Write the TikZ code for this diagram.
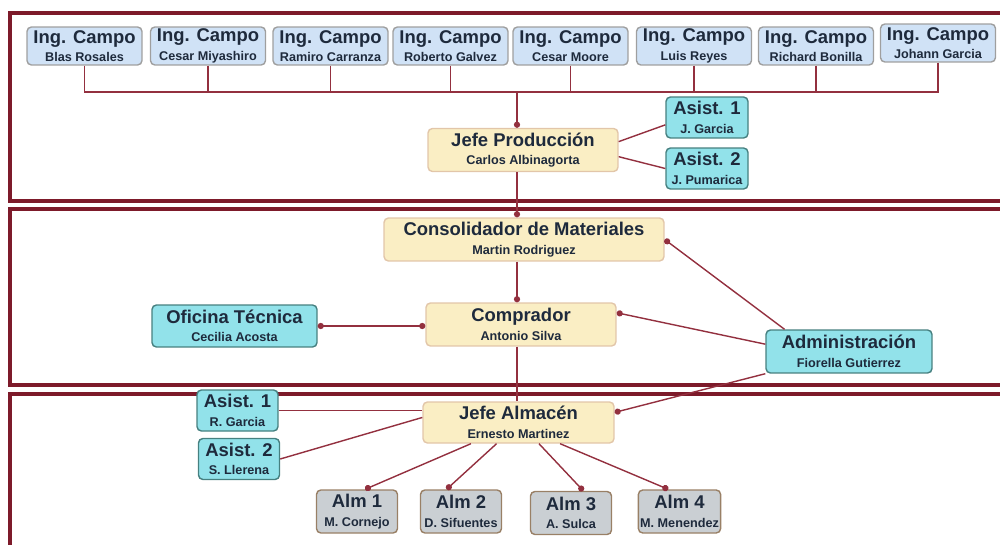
\documentclass[tikz,border=0pt]{standalone}
\usepackage{fontspec}
\setmainfont{Liberation Sans}
\usetikzlibrary{arrows.meta}
\definecolor{bandred}{HTML}{7D1A2A}
\definecolor{bandpink}{HTML}{EDC2C8}
\definecolor{linkred}{HTML}{93303F}
\definecolor{inkblue}{HTML}{1E2A3C}
\definecolor{ingfill}{HTML}{D0E2F6}
\definecolor{jefefill}{HTML}{FAEEC4}
\definecolor{asisfill}{HTML}{92E2EA}
\definecolor{almfill}{HTML}{CACFD3}
\tikzset{
  card/.style={rectangle,rounded corners=2.5pt,align=center,inner sep=1pt,
    text=inkblue,font=\bfseries,line width=0.8pt},
  ingbox/.style={card,fill=ingfill,draw=gray!75,minimum width=2.3cm,minimum height=0.76cm},
  jefebox/.style={card,fill=jefefill,draw=brown!45,minimum width=3.8cm,minimum height=0.86cm},
  asisbox/.style={card,fill=asisfill,draw=teal!45!gray,minimum width=1.64cm,minimum height=0.82cm},
  almbox/.style={card,fill=almfill,draw=brown!40!gray,minimum width=1.62cm,minimum height=0.86cm},
  rel/.style={draw=linkred,line width=0.8pt},
  feed/.style={rel,-{Circle[length=3.5pt]}},
  mutual/.style={rel,{Circle[length=3.5pt]}-{Circle[length=3.5pt]}},
  bandback/.style={draw=bandpink,line width=2.8pt},
  bandline/.style={draw=bandred,line width=1.8pt}
}
\newcommand{\who}[2]{{\fontsize{10.5}{11}\selectfont #1}\\[-1.5pt]{\fontsize{7.2}{8}\selectfont #2}}

\begin{document}
\begin{tikzpicture}[x=0.02cm,y=-0.02cm]
\useasboundingbox (0,0) rectangle (1000,544);
\clip (0,0) rectangle (1000,544);

% Three bands, open on the right
\foreach \sty in {bandback,bandline}{
  \draw[\sty] (1010,13) -| (10,201) -- (1010,201);
  \draw[\sty] (1010,209) -| (10,385) -- (1010,385);
  \draw[\sty] (1010,394) -| (10,560);
}

% Field engineers along the top
\node[ingbox] (ing1) at (84.5,46) {\who{Ing. Campo}{Blas Rosales}};
\node[ingbox] (ing2) at (208,46) {\who{Ing. Campo}{Cesar Miyashiro}};
\node[ingbox] (ing3) at (330.5,46) {\who{Ing. Campo}{Ramiro Carranza}};
\node[ingbox] (ing4) at (450.5,46) {\who{Ing. Campo}{Roberto Galvez}};
\node[ingbox] (ing5) at (570.5,46) {\who{Ing. Campo}{Cesar Moore}};
\node[ingbox] (ing6) at (694,46) {\who{Ing. Campo}{Luis Reyes}};
\node[ingbox] (ing7) at (816,46) {\who{Ing. Campo}{Richard Bonilla}};
\node[ingbox] (ing8) at (938,43) {\who{Ing. Campo}{Johann Garcia}};

% Production
\node[jefebox] (jprod) at (523,150) {\who{Jefe Producción}{Carlos Albinagorta}};
\node[asisbox] (asp1) at (707,117.5) {\who{Asist. 1}{J. Garcia}};
\node[asisbox] (asp2) at (707,168.5) {\who{Asist. 2}{J. Pumarica}};

% Purchasing
\node[jefebox,minimum width=5.6cm] (cons) at (524,239.5) {\who{Consolidador de Materiales}{Martin Rodriguez}};
\node[jefebox] (comp) at (521,324.5) {\who{Comprador}{Antonio Silva}};
\node[asisbox,minimum width=3.3cm,minimum height=0.84cm] (ofic) at (234.5,326) {\who{Oficina Técnica}{Cecilia Acosta}};
\node[asisbox,minimum width=3.32cm,minimum height=0.86cm] (admin) at (849,351.5) {\who{Administración}{Fiorella Gutierrez}};

% Warehouse
\node[jefebox,minimum width=3.82cm,minimum height=0.82cm] (jalm) at (518.5,422.5) {\who{Jefe Almacén}{Ernesto Martinez}};
\node[asisbox,minimum width=1.62cm] (asa1) at (237.5,410.5) {\who{Asist. 1}{R. Garcia}};
\node[asisbox,minimum width=1.62cm] (asa2) at (239,459) {\who{Asist. 2}{S. Llerena}};
\node[almbox] (alm1) at (357,511.5) {\who{Alm 1}{M. Cornejo}};
\node[almbox] (alm2) at (461,511.5) {\who{Alm 2}{D. Sifuentes}};
\node[almbox] (alm3) at (571,513) {\who{Alm 3}{A. Sulca}};
\node[almbox] (alm4) at (679.5,511.5) {\who{Alm 4}{M. Menendez}};

% Engineers feed the production head
\coordinate (bus) at (517,92);
\foreach \i in {1,...,8}
  \draw[rel] (ing\i.south) |- (bus);
\draw[feed] (bus) -- (bus |- jprod.north);
\draw[rel] (jprod.5) -- (asp1.190);
\draw[rel] (jprod.-4) -- (asp2.west);

% Main chain
\draw[feed] (bus |- jprod.south) -- (bus |- cons.north);
\draw[feed] (bus |- cons.south) -- (bus |- comp.north);
\draw[rel] (bus |- comp.south) -- (bus |- jalm.north);
\draw[mutual] (ofic.east) -- (ofic.east -| comp.west);

% Administration
\draw[feed] (admin.161) -- (cons.east);
\draw[feed] (admin.175) -- (comp.7);
\draw[feed] (admin.south west) -- (jalm.6);

% Warehouse staff
\draw[rel] (asa1.east) -- (asa1.east -| jalm.west);
\draw[rel] (asa2.east) -- (jalm.177);
\draw[feed] (jalm.204) -- (alm1.70);
\draw[feed] (jalm.224) -- (alm2.123);
\draw[feed] (jalm.314) -- (alm3.61);
\draw[feed] (jalm.333) -- (alm4.117);

\end{tikzpicture}
\end{document}
